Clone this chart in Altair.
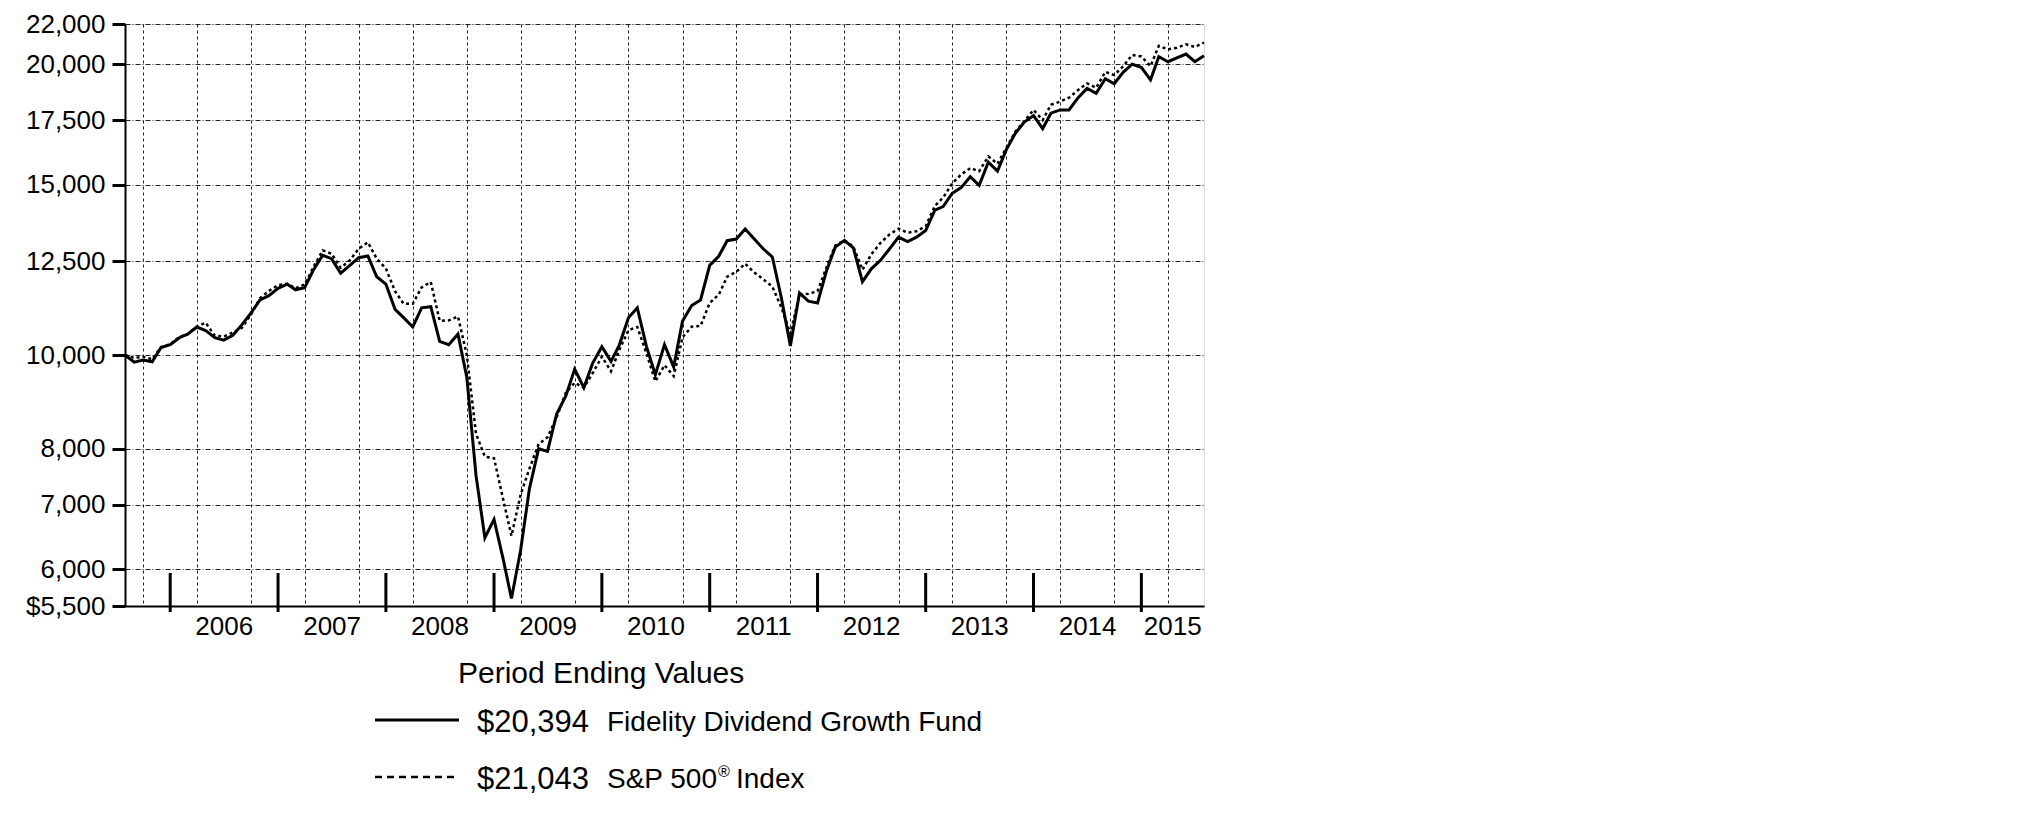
import calendar
import altair as alt
import pandas as pd

FONT = "Liberation Sans"

# Monthly hypothetical $10,000 growth, Jul 31 2005 .. Jul 31 2015
fund = [10000, 9830, 9880, 9840, 10180, 10250, 10420, 10510, 10690, 10600,
        10420, 10360, 10480, 10750, 11050, 11400, 11520, 11720, 11840, 11680,
        11740, 12250, 12680, 12580, 12150, 12380, 12610, 12660, 12050, 11840,
        11150, 10930, 10690, 11190, 11220, 10330, 10250, 10510, 9480, 7510,
        6470, 6760, 6150, 5600, 6280, 7280, 8000, 7950, 8690, 9070,
        9670, 9250, 9810, 10200, 9850, 10240, 10930, 11190, 10200, 9540,
        10250, 9720, 10840, 11250, 11400, 12380, 12660, 13130, 13180, 13500,
        13180, 12880, 12630, 11440, 10220, 11590, 11370, 11320, 12240, 12930,
        13140, 12910, 11910, 12280, 12530, 12880, 13240, 13100, 13240, 13450,
        14120, 14240, 14700, 14900, 15290, 14980, 15830, 15500, 16310, 16970,
        17420, 17690, 17150, 17790, 17930, 17930, 18460, 18870, 18650, 19310,
        19080, 19620, 19990, 19840, 19260, 20350, 20110, 20300, 20480, 20110,
        20394]

sp500 = [10000, 9930, 9960, 9900, 10190, 10260, 10440, 10510, 10700, 10800,
         10470, 10450, 10550, 10670, 11010, 11450, 11650, 11810, 11850, 11720,
         11830, 12330, 12830, 12730, 12310, 12530, 12880, 13080, 12580, 12290,
         11640, 11300, 11300, 11750, 11900, 10850, 10860, 10960, 10000, 8290,
         7850, 7820, 7090, 6500, 7170, 7630, 8090, 8220, 8620, 9140,
         9360, 9250, 9580, 9960, 9620, 10120, 10610, 10690, 10040, 9390,
         9760, 9510, 10430, 10700, 10720, 11320, 11550, 12050, 12190, 12430,
         12170, 11980, 11770, 11190, 10520, 11550, 11570, 11640, 12340, 12980,
         13140, 12950, 12250, 12710, 13060, 13330, 13510, 13380, 13430, 13590,
         14260, 14550, 15050, 15370, 15610, 15490, 16050, 15770, 16380, 17030,
         17450, 17930, 17500, 18150, 18290, 18460, 18800, 19100, 18900, 19630,
         19480, 19900, 20440, 20360, 19900, 20880, 20710, 20790, 20960, 20830,
         21043]

series_names = ["Fidelity Dividend Growth Fund", "S&P 500® Index"]
year_labels = ["2006", "2007", "2008", "2009", "2010", "2011", "2012", "2013", "2014", "2015"]
y_ticks = [5500, 6000, 7000, 8000, 10000, 12500, 15000, 17500, 20000, 22000]


def month_ends(y, m, n):
    out = []
    for _ in range(n):
        out.append(f"{y:04d}-{m:02d}-{calendar.monthrange(y, m)[1]:02d}")
        m += 1
        if m > 12:
            m, y = 1, y + 1
    return out


dates = month_ends(2005, 7, len(fund))


def ms(s):
    return int(pd.Timestamp(s, tz="UTC").value // 10**6)


quarter_ms = [ms(d) for d in dates if int(d[5:7]) in (3, 6, 9, 12)]
year_end = [d for d in dates if int(d[5:7]) == 12]

last = pd.Timestamp(dates[-1])
mids = []
for yl in year_labels:
    a = pd.Timestamp(f"{yl}-01-01")
    b = min(pd.Timestamp(f"{yl}-12-31"), last)
    mids.append((a + (b - a) / 2).strftime("%Y-%m-%d"))

df = pd.DataFrame({
    "date": dates * 2,
    "value": fund + sp500,
    "series": [series_names[0]] * len(fund) + [series_names[1]] * len(sp500),
})
df_ticks = pd.DataFrame({"date": year_end})
df_years = pd.DataFrame({"date": mids, "label": year_labels})
one = pd.DataFrame({"k": [0]})

W, H = 1079, 582

xscale = alt.Scale(type="utc", domain=[ms(dates[0]), ms(dates[-1])])
yscale = alt.Scale(type="log", domain=[5500, 22000], nice=False)

x_axis = alt.Axis(values=quarter_ms, grid=True, ticks=False, labels=False, title=None,
                  gridDash=[3, 3], gridColor="#222", gridWidth=1,
                  domainColor="black", domainWidth=2)
y_axis = alt.Axis(values=y_ticks, grid=True, title=None,
                  gridDash=[5, 2, 1, 2], gridColor="#222", gridWidth=1,
                  labelExpr="datum.value == 5500 ? '$5,500' : format(datum.value, ',')",
                  labelFont=FONT, labelFontSize=26, labelColor="black", labelPadding=7,
                  tickSize=13, tickWidth=3, tickColor="black",
                  domainColor="black", domainWidth=2)

sp_line = alt.Chart(df).transform_filter(
    alt.datum.series == series_names[1]
).mark_line(color="black", strokeWidth=2.5, strokeDash=[3, 3]).encode(
    x=alt.X("date:T", scale=xscale, axis=x_axis),
    y=alt.Y("value:Q", scale=yscale, axis=y_axis),
)

fund_line = alt.Chart(df).transform_filter(
    alt.datum.series == series_names[0]
).mark_line(color="black", strokeWidth=3).encode(
    x=alt.X("date:T", scale=xscale),
    y=alt.Y("value:Q", scale=yscale),
)

ticks = alt.Chart(df_ticks).mark_rule(color="black", strokeWidth=3).encode(
    x=alt.X("date:T", scale=xscale),
    y=alt.value(549), y2=alt.value(588),
)

years = alt.Chart(df_years).mark_text(font=FONT, fontSize=26, color="black",
                                      baseline="middle", align="center").encode(
    x=alt.X("date:T", scale=xscale),
    y=alt.value(603),
    text="label:N",
)


def label(text, x, y, size, dy=0):
    return alt.Chart(one).mark_text(text=text, font=FONT, fontSize=size, color="black",
                                    align="left", baseline="middle", dy=dy).encode(
        x=alt.value(x), y=alt.value(y))


def legend_line(y, dash=None):
    kw = dict(color="black", strokeWidth=3)
    if dash:
        kw["strokeDash"] = dash
        kw["strokeWidth"] = 2.5
    return alt.Chart(one).mark_rule(**kw).encode(
        x=alt.value(250), x2=alt.value(334), y=alt.value(y))


legend = [
    label("Period Ending Values", 333, 650, 30),
    legend_line(696),
    label(f"${fund[-1]:,}", 352, 699, 31),
    label(series_names[0], 482, 699, 28),
    legend_line(753, [7, 5]),
    label(f"${sp500[-1]:,}", 352, 756, 31),
    label("S&P 500", 482, 756, 28),
    label("®", 593, 756, 16, dy=-8),
    label("Index", 611, 756, 28),
]

chart = alt.layer(sp_line, fund_line, ticks, years, *legend).properties(
    width=W, height=H,
    autosize=alt.AutoSizeParams(type="none"),
    padding={"left": 117, "top": 16, "right": 60, "bottom": 210},
).configure_view(stroke="black", strokeWidth=2).configure(background="white")

chart.save("out.html", embed_options={"renderer": "svg", "actions": False})
